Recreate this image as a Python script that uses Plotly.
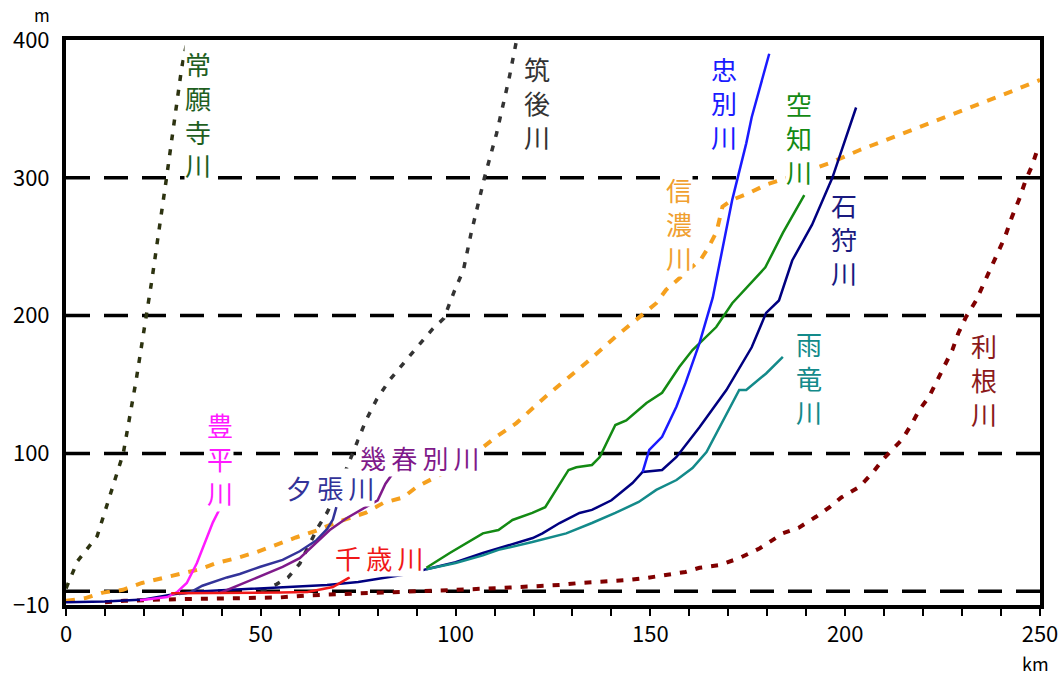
import plotly.graph_objects as go

# --- river longitudinal profiles: distance from mouth (km) vs elevation (m) ---

joganji_km = [0, 3, 8, 11.5, 14.7, 18, 22, 25.8, 29.7, 31.5]
joganji_m = [2, 22, 40, 72, 100, 153, 225, 300, 380, 405]

chikugo_km = [50, 54, 57, 60, 64.6, 67, 70, 72.8, 75, 77, 79.7, 83, 88, 94, 97, 99.7, 102, 104, 107.4, 110.5, 113.8, 116]
chikugo_m = [0, 5, 10, 20, 46, 57, 75, 95, 110, 124, 139, 153, 170, 190, 198, 218, 233, 260, 300, 332, 373, 405]

shinano_km = [0, 5, 9.5, 14.6, 19.5, 24, 29, 34.4, 38.7, 43.8, 49, 54, 59, 64.3, 69.4, 77, 81.4, 86.5, 90, 95,
              102.8, 110.4, 115.6, 123, 126, 133.6, 141, 147, 151.5, 154, 157, 163, 165, 167, 168.5, 171,
              175.4, 179.7, 183, 196, 203.6, 213, 222.3, 231.8, 240.3, 250]
shinano_m = [-7, -5, -1, 1, 6, 9, 13, 16, 20.5, 24, 28.5, 34, 39, 44, 50, 57, 64, 68, 75.6, 83,
             95, 112, 122, 141, 148, 166, 184.5, 199, 209, 218.6, 226, 241, 250, 261, 279, 284,
             289, 295, 298, 310.7, 320, 330, 340, 350.7, 360, 371]

tone_km = [10, 15, 25, 35, 45, 55, 62, 70, 80, 90, 100, 111, 116, 121.5, 126.7, 131.8, 137, 143.8, 149, 154,
           159, 162.6, 167.7, 172.8, 178, 184, 188, 192.5, 196, 199, 203.6, 207, 209.5, 212, 214.6, 217.2,
           219, 221.5, 223.6, 225.4, 227.5, 229, 231, 233.6, 239, 241, 242.8, 244.6, 246.3, 248, 249.5]
tone_m = [-8, -7, -6, -5.5, -5, -4.5, -3, -2, -1, 0, 1, 2.3, 3, 3.8, 4.5, 6, 6.7, 8, 9.6, 12,
          14, 17, 19, 24, 31, 42, 46, 54, 61, 68, 75.6, 85.8, 95, 102.5, 110, 122,
          131.5, 141, 153, 164, 175, 187, 199, 211, 245, 257, 271.6, 284, 298, 309, 322]

ishikari_km = [0, 10, 20, 28, 35, 45, 50, 58, 67, 75, 82, 89, 92.5, 100, 107, 111, 119.8, 122.3, 126.7, 131.8,
               135, 140, 145.4, 148, 153, 156.7, 162.6, 169.5, 176, 179.7, 183, 186.4, 191.5, 196.7, 202.8]
ishikari_m = [-8, -7.5, -6, -2, 0, 1.5, 2.3, 3, 4.5, 6.7, 9.6, 13, 16, 21, 27.7, 31, 38.6, 42, 49.5, 56.8,
              59, 66, 78.5, 86.5, 88, 97.4, 119, 146, 177, 202, 211, 240, 266, 300, 351]

uryu_km = [92.5, 100, 107, 111, 119.7, 128.4, 135, 141, 147, 151.5, 156.7, 160.8, 164.4, 167.7, 172.8, 174.6, 179.7, 184]
uryu_m = [16, 20.5, 26, 30, 35.7, 42, 49.5, 56.8, 64.8, 73.5, 80.7, 89.4, 101, 119, 146, 146, 158, 170]

sorachi_km = [92.5, 98.5, 107, 111, 114.6, 119.7, 123, 129, 131, 135, 137, 141, 143.8, 149, 153, 157.4, 160.8,
              166.9, 171, 179.5, 184, 189.5]
sorachi_m = [17, 27.7, 42, 44.4, 51.7, 56.8, 61, 88, 90, 91.6, 97.4, 120.6, 124, 136.6, 144, 162.7, 175,
             191.7, 209, 235, 260, 287.5]

chubetsu_km = [148, 149.7, 153, 156.7, 159, 162.6, 166, 171, 174.6, 176, 180.5]
chubetsu_m = [86.5, 102.5, 112, 134, 151, 180, 213, 284, 325, 344, 390]

yubari_km = [29, 31.8, 35, 41.3, 44.6, 49.7, 55.6, 60, 64.3, 67, 68.5, 69.4]
yubari_m = [-2, -1, 4, 10, 12.5, 17.6, 22.7, 29, 37, 45, 52, 61]

ikushunbetsu_km = [39.5, 44, 47, 55.6, 60, 64.3, 67.7, 72, 77, 80, 82, 84]
ikushunbetsu_m = [-1.3, 4, 8, 17.6, 24, 35, 44.4, 53, 61, 66, 78, 86]

toyohira_km = [19, 26, 28.5, 31, 33.6, 36, 37.7, 39.5]
toyohira_m = [-6.5, -4.2, -0.6, 6, 20.5, 37, 50, 60]

chitose_km = [27, 35, 45, 55, 62, 65, 68.5, 72.8]
chitose_m = [-1.5, -1.5, -1.2, -1, -0.5, 0.9, 3, 10]

x_tick_vals = [0, 50, 100, 150, 200, 250]
y_tick_vals = [-10, 100, 200, 300, 400]
y_tick_text = ["−10", "100", "200", "300", "400"]
grid_levels = [0, 100, 200, 300]

JP = "Noto Sans CJK JP"
THIN = "\u2009"

# (x, y, name, colour, dash, width)
series = [
    (tone_km, tone_m, "利根川", "#800000", "7px,9px", 4),
    (chikugo_km, chikugo_m, "筑後川", "#333333", "6px,9px", 3.5),
    (joganji_km, joganji_m, "常願寺川", "#2d3310", "6px,9px", 3.5),
    (shinano_km, shinano_m, "信濃川", "#f5a01e", "9px,9px", 4),
    (ishikari_km, ishikari_m, "石狩川", "#000080", "solid", 2.5),
    (uryu_km, uryu_m, "雨竜川", "#138a8a", "solid", 2.5),
    (sorachi_km, sorachi_m, "空知川", "#138a13", "solid", 2.5),
    (chubetsu_km, chubetsu_m, "忠別川", "#1a1aff", "solid", 2.5),
    (yubari_km, yubari_m, "夕張川", "#333399", "solid", 2.5),
    (ikushunbetsu_km, ikushunbetsu_m, "幾春別川", "#7f1a8a", "solid", 2.5),
    (toyohira_km, toyohira_m, "豊平川", "#ff1aff", "solid", 2.5),
    (chitose_km, chitose_m, "千歳川", "#f01818", "solid", 2.5),
]

fig = go.Figure()
for xs, ys, name, color, dash, w in series:
    fig.add_trace(go.Scatter(x=xs, y=ys, mode="lines", name=name,
                             line=dict(color=color, width=w, dash=dash),
                             showlegend=False, hoverinfo="skip"))

# horizontal reference levels
for lv in grid_levels:
    fig.add_shape(type="line", xref="paper", x0=0, x1=1, yref="y", y0=lv, y1=lv,
                  line=dict(color="black", width=3.5, dash="24px,14px"), layer="below")

# river name labels: (x, y, text, colour, vertical?)
labels = [
    (33.8, 346, "常願寺川", "#1f5f1f", True),
    (120.8, 355, "筑後川", "#333333", True),
    (169.0, 355, "忠別川", "#1a1aff", True),
    (188.2, 329, "空知川", "#138a13", True),
    (157.4, 267, "信濃川", "#f0a030", True),
    (199.7, 256, "石狩川", "#1a1a80", True),
    (190.8, 155, "雨竜川", "#138a8a", True),
    (235.6, 154, "利根川", "#8b1a1a", True),
    (39.5, 96, "豊平川", "#ff1aff", True),
    (67.7, 75, "夕張川", "#333399", False),
    (90.8, 97.4, "幾春別川", "#7f1a8a", False),
    (80.3, 24.8, "千歳川", "#f01818", False),
]
for x, y, txt, col, vertical in labels:
    t = "<br>".join(txt) if vertical else THIN.join(txt)
    fig.add_annotation(x=x, y=y, xref="x", yref="y", text=t, showarrow=False,
                       font=dict(family=JP, size=26, color=col),
                       bgcolor="white", borderpad=0,
                       xanchor="center", yanchor="middle")

# unit labels
fig.add_annotation(xref="paper", yref="paper", x=(42 - 66) / 974, y=(605 - 15) / 565,
                   text="m", showarrow=False, xanchor="center", yanchor="middle",
                   font=dict(family=JP, size=17, color="black"))
fig.add_annotation(xref="paper", yref="paper", x=(1035 - 66) / 974, y=(605 - 663) / 565,
                   text="km", showarrow=False, xanchor="center", yanchor="middle",
                   font=dict(family=JP, size=18, color="black"))

fig.update_xaxes(range=[0, 250], tickvals=x_tick_vals, ticks="outside", ticklen=7,
                 tickwidth=1.5, tickcolor="black", automargin=False,
                 minor=dict(dtick=10, ticks="outside", ticklen=7, tickwidth=1.5, tickcolor="black"),
                 showgrid=False, zeroline=False, showline=True, linecolor="black", linewidth=4,
                 mirror=True, tickfont=dict(family=JP, size=22, color="black"))
fig.update_yaxes(range=[-10, 400], tickvals=y_tick_vals, ticktext=y_tick_text, ticks="",
                 showgrid=False, zeroline=False, showline=True, linecolor="black", linewidth=4,
                 mirror=True, ticklabelstandoff=8, automargin=False,
                 tickfont=dict(family=JP, size=22, color="black"))

fig.update_layout(width=1059, height=673, margin=dict(l=66, r=19, t=40, b=68),
                  paper_bgcolor="white", plot_bgcolor="white",
                  font=dict(family=JP))

fig.write_html("out.html")
